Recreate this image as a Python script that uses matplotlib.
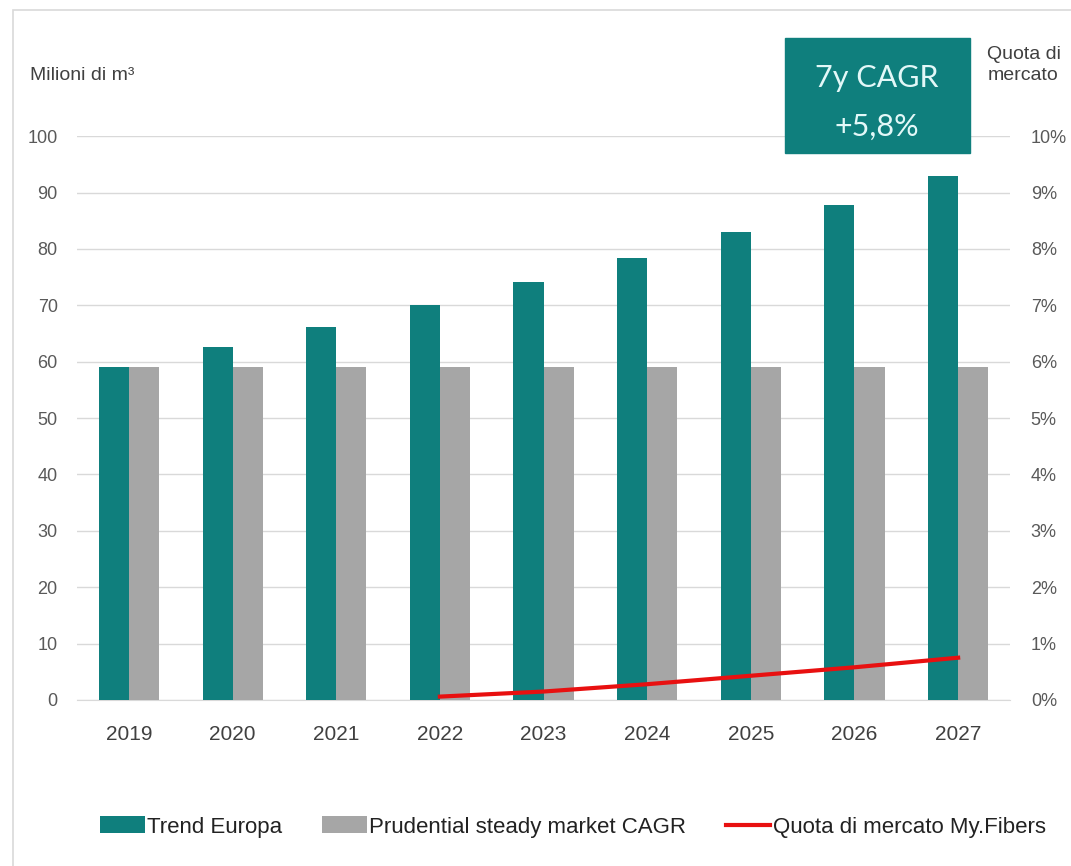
import numpy as np
import matplotlib
matplotlib.use("Agg")
import matplotlib.pyplot as plt
import matplotlib.ticker as ticker
from matplotlib.patches import Rectangle

# Data
years = ["2019", "2020", "2021", "2022", "2023", "2024", "2025", "2026", "2027"]
trend_europa = [59.0, 62.6, 66.2, 70.0, 74.1, 78.4, 83.0, 87.8, 92.9]
prudential = [59.0, 59.0, 59.0, 59.0, 59.0, 59.0, 59.0, 59.0, 59.0]
quota_years = ["2022", "2023", "2024", "2025", "2026", "2027"]
quota_mercato = [0.06, 0.15, 0.28, 0.43, 0.58, 0.75]

TEAL = "#0f7f7d"
GREY = "#a6a6a6"
RED = "#e81010"
TXT = "#595959"

plt.rcParams['font.family'] = ['Liberation Sans', 'DejaVu Sans']

fig = plt.figure(figsize=(10.71, 8.66), dpi=100)
ax = fig.add_axes([0.072, 0.1917, 0.871, 0.651])
ax2 = ax.twinx()

x = np.arange(len(years))
w = 0.29
ax.bar(x - w / 2, trend_europa, w, color=TEAL, label="Trend Europa", zorder=3)
ax.bar(x + w / 2, prudential, w, color=GREY, label="Prudential steady market CAGR", zorder=3)

qx = [years.index(y) for y in quota_years]
ax2.plot(qx, quota_mercato, color=RED, lw=3, label="Quota di mercato My.Fibers", zorder=4)

ax.set_xlim(-0.5, len(years) - 0.5)
ax.set_ylim(0, 100)
ax.set_yticks(np.arange(0, 101, 10))
ax2.set_ylim(0, 10)
ax2.set_yticks(np.arange(0, 11, 1))
ax2.yaxis.set_major_formatter(ticker.FormatStrFormatter('%d%%'))

ax.set_xticks(x)
ax.set_xticklabels(years)
ax.grid(axis="y", color="#d9d9d9", lw=1, zorder=0)
for a in (ax, ax2):
    for s in a.spines.values():
        s.set_visible(False)
    a.tick_params(length=0, labelcolor=TXT, labelsize=13)
ax.tick_params(axis="x", labelcolor="#404040", labelsize=15, pad=18)
ax.tick_params(axis="y", pad=14)
ax2.tick_params(axis="y", pad=15)
ax.spines["bottom"].set_visible(True)
ax.spines["bottom"].set_color("#d9d9d9")

# axis titles
fig.text(0.028, 0.913, "Milioni di m³", fontsize=14, color="#404040", va="center")
fig.text(0.922, 0.925, "Quota di\nmercato", fontsize=14, color="#404040", va="center",
         linespacing=1.3)

# CAGR box
fig.patches.append(Rectangle((785 / 1071, 1 - 153 / 866), 185 / 1071, 115 / 866,
                             transform=fig.transFigure, color=TEAL, zorder=5))
fig.text(877 / 1071, 1 - 78 / 866, "7y CAGR", fontsize=22, color="#e3f8f8",
         ha="center", va="center", family=['Lato', 'DejaVu Sans'], zorder=6)
fig.text(877 / 1071, 1 - 127 / 866, "+5,8%", fontsize=22, color="#e3f8f8",
         ha="center", va="center", family=['Lato', 'DejaVu Sans'], zorder=6)

# outer frame
fig.patches.append(Rectangle((13 / 1071, -0.1), 1.2, 1 - 10 / 866 + 0.1, transform=fig.transFigure,
                             fill=False, edgecolor="#d9d9d9", lw=1.2))

h1, l1 = ax.get_legend_handles_labels()
h2, l2 = ax2.get_legend_handles_labels()
fig.legend(h1 + h2, l1 + l2, loc="center", bbox_to_anchor=(0.535, 0.045), ncol=3,
           frameon=False, fontsize=16, handlelength=2.0, handleheight=0.8,
           handletextpad=0.1, columnspacing=1.8, labelcolor="#222222")

fig.savefig("out.png", dpi=100)
